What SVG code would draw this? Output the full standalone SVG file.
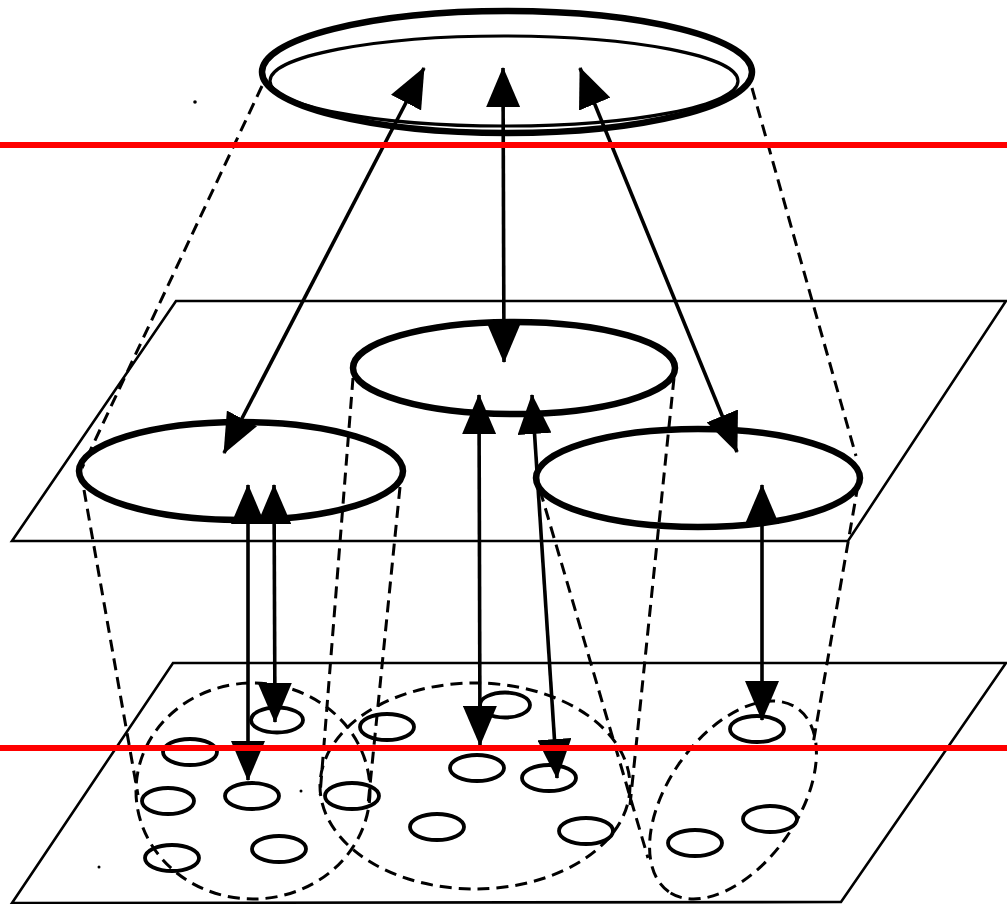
<svg xmlns="http://www.w3.org/2000/svg" width="1007" height="904" viewBox="0 0 1007 904">
  <style>
    .plane { fill: none; stroke: #000; stroke-width: 2.6; stroke-linejoin: miter; }
    .thick { fill: none; stroke: #000; stroke-width: 6.5; }
    .thin { fill: none; stroke: #000; stroke-width: 3.2; }
    .dash { fill: none; stroke: #000; stroke-width: 3; stroke-dasharray: 12 7; }
    .small { fill: none; stroke: #000; stroke-width: 3.8; }
    .arrow { fill: none; stroke: #000; stroke-width: 3.6; marker-start: url(#ah); marker-end: url(#ah); }
    .red { stroke: #ff0000; stroke-width: 6; }
    .dot { fill: #000; }
  </style>
  <defs>
    <marker id="ah" viewBox="0 0 40 34" markerWidth="40" markerHeight="34" markerUnits="userSpaceOnUse" refX="39" refY="17" orient="auto-start-reverse">
      <path d="M0,0 L40,17 L0,34 z" fill="#000"/>
    </marker>
  </defs>
  <rect width="1007" height="904" fill="#fff"/>

  <g id="plane-middle">
    <polygon class="plane" points="176,301 1006,301 848,541 12,541"/>
  </g>
  <g id="plane-bottom">
    <polygon class="plane" points="173,663 1006,663 841,902 12,903"/>
  </g>

  <g id="top-node">
    <ellipse class="thick" cx="507" cy="72" rx="245" ry="61" stroke-width="8"/>
    <ellipse class="thin" cx="504" cy="81" rx="234" ry="45"/>
  </g>

  <g id="mid-center">
    <ellipse class="thick" cx="514" cy="368" rx="161" ry="46"/>
  </g>
  <g id="mid-left">
    <ellipse class="thick" cx="241" cy="471" rx="162" ry="49"/>
  </g>
  <g id="mid-right">
    <ellipse class="thick" cx="698" cy="478" rx="162" ry="49"/>
  </g>

  <g id="cluster-left">
    <ellipse class="dash" cx="253" cy="791" rx="117" ry="108"/>
  </g>
  <g id="cluster-center">
    <ellipse class="dash" cx="475" cy="786" rx="155" ry="103"/>
  </g>
  <g id="cluster-right">
    <ellipse class="dash" cx="733" cy="800" rx="112" ry="65" transform="rotate(125 733 800)"/>
  </g>

  <g id="units">
    <ellipse class="small" cx="277" cy="720" rx="26" ry="12.5"/>
    <ellipse class="small" cx="190" cy="752" rx="27" ry="13"/>
    <ellipse class="small" cx="252" cy="796" rx="27" ry="13"/>
    <ellipse class="small" cx="168" cy="801" rx="26" ry="13"/>
    <ellipse class="small" cx="352" cy="796" rx="27" ry="13"/>
    <ellipse class="small" cx="387" cy="727" rx="27" ry="13"/>
    <ellipse class="small" cx="505" cy="705" rx="25" ry="12.5"/>
    <ellipse class="small" cx="477" cy="768" rx="27" ry="13"/>
    <ellipse class="small" cx="549" cy="778" rx="27" ry="13"/>
    <ellipse class="small" cx="437" cy="827" rx="27" ry="13"/>
    <ellipse class="small" cx="586" cy="831" rx="27" ry="13"/>
    <ellipse class="small" cx="279" cy="849" rx="27" ry="13"/>
    <ellipse class="small" cx="172" cy="858" rx="27" ry="13"/>
    <ellipse class="small" cx="757" cy="729" rx="27" ry="13"/>
    <ellipse class="small" cx="770" cy="819" rx="27" ry="13"/>
    <ellipse class="small" cx="695" cy="843" rx="27" ry="13"/>
  </g>

  <g id="connectors">
    <line class="dash" x1="262" y1="86" x2="82" y2="468"/>
    <line class="dash" x1="752" y1="88" x2="856" y2="456"/>
    <line class="dash" x1="84" y1="490" x2="138" y2="795"/>
    <line class="dash" x1="400" y1="487" x2="368" y2="805"/>
    <line class="dash" x1="353" y1="378" x2="320" y2="795"/>
    <line class="dash" x1="674" y1="378" x2="630" y2="805"/>
    <line class="dash" x1="540" y1="490" x2="648" y2="858"/>
    <line class="dash" x1="858" y1="485" x2="812" y2="750"/>

    <line class="arrow" x1="224" y1="453" x2="424" y2="68"/>
    <line class="arrow" x1="504" y1="362" x2="503" y2="68"/>
    <line class="arrow" x1="737" y1="452" x2="580" y2="68"/>

    <line class="arrow" x1="248" y1="780" x2="248" y2="485"/>
    <line class="arrow" x1="275" y1="722" x2="274" y2="485"/>
    <line class="arrow" x1="480" y1="745" x2="479" y2="395"/>
    <line class="arrow" x1="557" y1="778" x2="532" y2="395"/>
    <line class="arrow" x1="762" y1="720" x2="762" y2="485"/>
  </g>

  <g id="specks">
    <circle class="dot" cx="195" cy="102" r="1.8"/>
    <circle class="dot" cx="99" cy="867" r="1.5"/>
    <circle class="dot" cx="301" cy="791" r="1.5"/>
  </g>

  <g id="guides">
    <line class="red" x1="0" y1="145" x2="1007" y2="145"/>
    <line class="red" x1="0" y1="748" x2="1007" y2="748"/>
  </g>
</svg>
